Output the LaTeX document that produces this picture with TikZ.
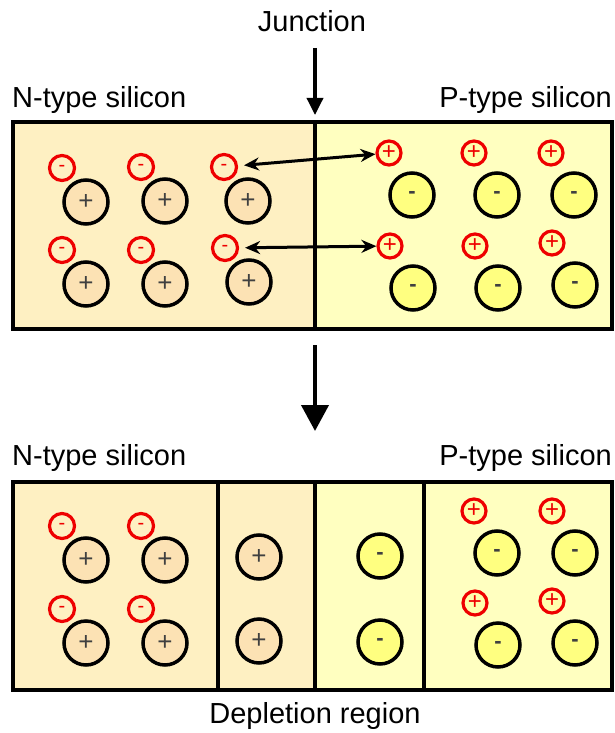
\documentclass[tikz,border=0pt]{standalone}
\usepackage{fontspec}
\setmainfont{Liberation Sans}
\usetikzlibrary{arrows.meta,positioning}
\definecolor{nside}{HTML}{FEF0C2}
\definecolor{pside}{HTML}{FFFFC0}
\definecolor{donor}{HTML}{FCE2B4}
\definecolor{acceptor}{HTML}{FFFF80}
\definecolor{carrier}{HTML}{EE0000}

\begin{document}
\begin{tikzpicture}[x=1pt,y=-1pt,on grid,
    ion/.style={circle,draw,line width=3.5pt,minimum size=44pt,inner sep=0pt,text=black!75},
    donorion/.style={ion,fill=donor,font=\fontsize{26}{26}\selectfont},
    acceptorion/.style={ion,fill=acceptor,font=\fontsize{22}{22}\bfseries\selectfont},
    electron/.style={circle,draw=carrier,line width=3.2pt,minimum size=25pt,inner sep=0pt,
        fill=nside,text=carrier,font=\fontsize{20}{20}\selectfont,above left=34pt and 24pt of #1},
    hole/.style={circle,draw=carrier,line width=3.2pt,minimum size=24pt,inner sep=0pt,
        fill=pside!70!acceptor,text=carrier,font=\fontsize{24}{24}\selectfont,above left=42pt and 23pt of #1},
    lbl/.style={font=\fontsize{29}{29}\selectfont,inner sep=0pt},
    move/.style={line width=3pt,{Stealth[length=15pt,width=13pt]}-{Stealth[length=15pt,width=13pt]}}]
\useasboundingbox (0,0) rectangle (614,733);

% before
\fill[nside] (13,122) rectangle (315,329);
\fill[pside] (315,122) rectangle (612,329);
\draw[line width=3.5pt] (13,122) rectangle (612,329) (315,122) -- (315,329);

\node[lbl] (junction) at (312,21) {Junction};
\node[lbl,anchor=west] (ntop) at (12,100) {N-type silicon};
\node[lbl,anchor=east] (ptop) at (612,100) {P-type silicon};
\coordinate (jtip) at (315,115);
\draw[line width=3.5pt,-{Triangle[length=17pt,width=16pt]}] (junction.south) ++(3,16) -- (jtip);

\node[donorion] (d1) at (86,202) {+};
\node[donorion] (d2) at (165,201) {+};
\node[donorion] (d3) at (248,201) {+};
\node[donorion] (d4) at (86,284) {+};
\node[donorion] (d5) at (165,284) {+};
\node[donorion] (d6) at (249,282) {+};
\foreach \i in {1,...,6}
    \node[electron=d\i] (e\i) {-};

\node[acceptorion] (a1) at (412,195) {-};
\node[acceptorion] (a2) at (497,195) {-};
\node[acceptorion] (a3) at (574,195) {-};
\node[acceptorion] (a4) at (413,288) {-};
\node[acceptorion] (a5) at (498,288) {-};
\node[acceptorion] (a6) at (575,285) {-};
\foreach \i in {1,...,6}
    \node[hole=a\i] (h\i) {+};

\draw[move,shorten <=6pt] (e3) -- (h1);
\draw[move,shorten <=6pt] (e6) -- (h4);

% step arrow
\coordinate (stepfrom) at (315,345);
\coordinate (stepto) at (315,431);
\draw[line width=4pt,-{Triangle[length=26pt,width=27pt]}] (stepfrom) -- (stepto);

% after
\fill[nside] (13,482) rectangle (315,690);
\fill[pside] (315,482) rectangle (612,690);
\draw[line width=3.5pt] (13,482) rectangle (612,690);
\draw[line width=3.5pt] (218,482) -- (218,690) (315,482) -- (315,690) (424,482) -- (424,690);

\node[lbl,anchor=west] (nbot) at (12,458) {N-type silicon};
\node[lbl,anchor=east] (pbot) at (612,458) {P-type silicon};
\node[lbl] (depletion) at (315,716) {Depletion region};

\node[donorion] (bd1) at (86,560) {+};
\node[donorion] (bd2) at (165,560) {+};
\node[donorion] (bd3) at (86,643) {+};
\node[donorion] (bd4) at (165,643) {+};
\foreach \i in {1,...,4}
    \node[electron=bd\i] (be\i) {-};
\node[donorion] (bd5) at (259,557) {+};
\node[donorion] (bd6) at (259,641) {+};

\node[acceptorion] (ba5) at (380,556) {-};
\node[acceptorion] (ba6) at (380,642) {-};
\node[acceptorion] (ba1) at (497,553) {-};
\node[acceptorion] (ba2) at (575,553) {-};
\node[acceptorion] (ba3) at (498,645) {-};
\node[acceptorion] (ba4) at (575,643) {-};
\foreach \i in {1,...,4}
    \node[hole=ba\i] (bh\i) {+};
\end{tikzpicture}
\end{document}
